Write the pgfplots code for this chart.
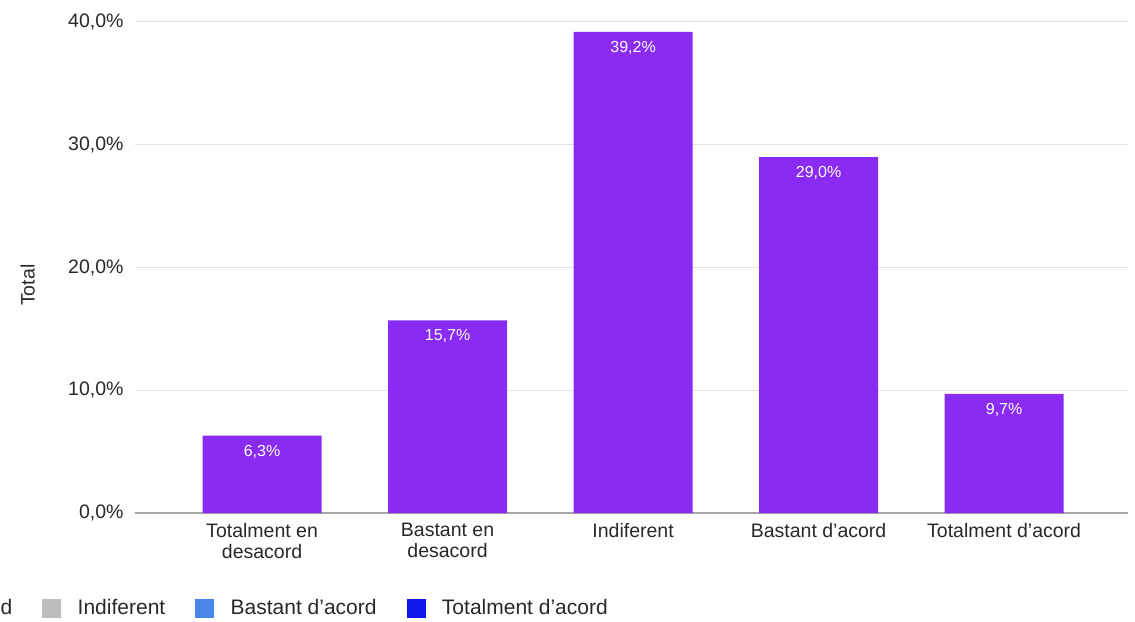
\documentclass[border=0pt]{standalone}
\usepackage{pgfplots}
\pgfplotsset{compat=1.18}
\usepackage{fontspec}
\setmainfont{Liberation Sans}
\definecolor{barc}{RGB}{138,43,244}
\definecolor{gridc}{RGB}{226,226,226}
\definecolor{basec}{RGB}{165,165,165}
\definecolor{txt}{RGB}{40,40,40}
\definecolor{lgray}{RGB}{189,189,189}
\definecolor{lblue}{RGB}{74,134,232}
\definecolor{dblue}{RGB}{16,24,235}
\newcommand{\lf}{\fontsize{19.5bp}{21bp}\selectfont}
\newcommand{\legf}{\fontsize{21bp}{24bp}\selectfont}
\begin{document}
\begin{tikzpicture}[x=1bp,y=1bp]
\useasboundingbox (0,0) rectangle (1135,-622);
\begin{axis}[
  at={(135bp,-513bp)}, anchor=south west,
  scale only axis, width=993bp, height=491bp,
  xmin=-0.685, xmax=4.668, ymin=0, ymax=40,
  axis line style={draw=none},
  major tick length=0pt,
  ytick={0,10,20,30,40},
  yticklabels={{0,0\%},{10,0\%},{20,0\%},{30,0\%},{40,0\%}},
  ymajorgrids, grid style={gridc, line width=1bp},
  extra y ticks={0}, extra y tick labels={},
  extra y tick style={grid style={basec, line width=2bp}},
  xtick={0,1,2,3,4},
  xticklabels={{Totalment en\\desacord},{Bastant en\\desacord},{Indiferent},{Bastant d'acord},{Totalment d'acord}},
  xticklabel style={align=center, font=\lf, text=txt, anchor=north, yshift=-7bp},
  yticklabel style={font=\lf, text=txt, xshift=-8bp},
  ylabel={Total},
  ylabel style={font=\lf, text=txt, at={(axis description cs:-0.108,0.464)}, anchor=center},
  clip=false,
  legend columns=-1,
  legend style={draw=none, fill=none, inner sep=0pt, font=\legf, text=txt,
    at={(axis description cs:-0.1526,-0.1935)}, anchor=west,
    /tikz/every odd column/.append style={column sep=15bp},
    /tikz/every even column/.append style={column sep=28bp}},
]
\addplot[ybar, bar width=119bp, bar shift=0pt, fill=barc, draw=none, forget plot,
  nodes near coords={\pgfmathprintnumber[fixed,fixed zerofill,precision=1,use comma,assume math mode=true]{\pgfplotspointmeta}\%},
  every node near coord/.append style={font=\fontsize{16bp}{19bp}\selectfont, text=white, anchor=north, yshift=-6bp},
] coordinates {(0,6.3) (1,15.7) (2,39.2) (3,29.0) (4,9.7)};
\addlegendimage{empty legend}
\addlegendentry{d}
\addlegendimage{legend image code/.code={\fill[lgray] (0bp,-9bp) rectangle (18bp,9bp);}}
\addlegendentry{Indiferent}
\addlegendimage{legend image code/.code={\fill[lblue] (0bp,-9bp) rectangle (18bp,9bp);}}
\addlegendentry{Bastant d'acord}
\addlegendimage{legend image code/.code={\fill[dblue] (0bp,-9bp) rectangle (18bp,9bp);}}
\addlegendentry{Totalment d'acord}
\end{axis}
\end{tikzpicture}
\end{document}
